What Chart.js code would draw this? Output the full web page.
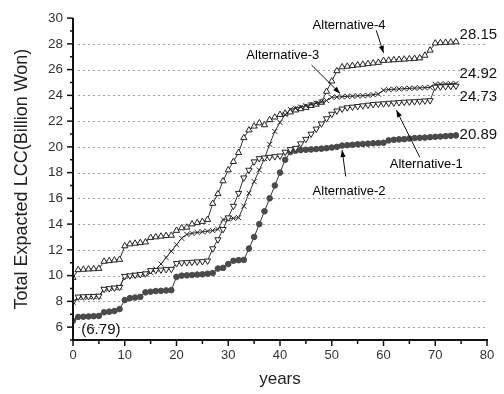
<!DOCTYPE html>
<html><head><meta charset="utf-8">
<script src="https://cdn.jsdelivr.net/npm/chart.js@4.4.1/dist/chart.umd.min.js"></script>
<style>html,body{margin:0;padding:0;background:#fff;overflow:hidden}#wrap{width:504px;height:394px}</style>
</head><body><div id="wrap"><canvas id="c" width="504" height="394"></canvas></div>
<script>
const years = [0,1,2,3,4,5,6,7,8,9,10,11,12,13,14,15,16,17,18,19,20,21,22,23,24,25,26,27,28,29,30,31,32,33,34,35,36,37,38,39,40,41,42,43,44,45,46,47,48,49,50,51,52,53,54,55,56,57,58,59,60,61,62,63,64,65,66,67,68,69,70,71,72,73,74];
const alt1 = [7.95,8.35,8.37,8.39,8.4,8.42,8.95,9.0,9.05,9.1,9.95,10.0,10.05,10.1,10.15,10.4,10.42,10.45,10.48,10.5,10.95,11.0,11.02,11.05,11.08,11.1,11.15,12.1,12.8,13.6,14.5,15.4,16.4,17.6,18.2,18.85,19.1,19.15,19.2,19.25,19.3,19.6,19.8,19.9,20.25,20.6,21.0,21.4,21.8,22.2,22.55,22.8,22.95,23.05,23.1,23.15,23.2,23.25,23.3,23.33,23.36,23.4,23.42,23.45,23.48,23.5,23.52,23.55,23.58,23.6,24.65,24.67,24.69,24.71,24.73];
const alt2 = [6.5,6.79,6.81,6.83,6.85,6.87,7.15,7.2,7.25,7.4,8.1,8.25,8.3,8.35,8.7,8.75,8.8,8.82,8.85,8.87,9.9,10.0,10.02,10.05,10.08,10.1,10.15,10.2,10.55,10.6,10.9,11.15,11.2,11.22,12.1,13.0,14.0,15.0,16.0,17.0,18.0,19.0,19.6,19.7,19.75,19.78,19.8,19.83,19.86,19.9,19.95,20.0,20.1,20.13,20.16,20.2,20.22,20.25,20.28,20.3,20.32,20.5,20.55,20.58,20.6,20.65,20.68,20.7,20.72,20.75,20.78,20.8,20.83,20.86,20.89];
const alt3 = [7.95,8.3,8.32,8.35,8.38,8.4,8.95,9.0,9.05,9.1,9.95,10.0,10.05,10.1,10.15,10.25,10.5,10.9,11.4,11.9,12.4,12.9,13.2,13.28,13.35,13.4,13.45,13.5,13.6,14.35,14.4,14.45,14.5,15.4,16.4,17.3,18.2,19.1,20.2,21.2,21.9,22.5,22.9,23.0,23.1,23.2,23.3,23.4,23.5,23.6,23.85,23.87,23.9,23.92,23.94,23.96,23.98,24.0,24.05,24.1,24.4,24.45,24.47,24.5,24.52,24.54,24.56,24.58,24.6,24.62,24.85,24.87,24.89,24.9,24.92];
const alt4 = [9.85,10.45,10.48,10.5,10.52,10.55,11.1,11.15,11.2,11.25,12.3,12.45,12.5,12.55,12.6,12.95,13.0,13.05,13.1,13.12,13.5,13.7,13.75,14.0,14.1,14.2,14.35,15.6,16.35,17.35,18.2,18.85,19.55,20.7,21.3,21.6,21.85,21.7,22.1,22.3,22.5,22.6,22.7,22.85,22.95,23.05,23.2,23.3,23.45,24.3,25.1,25.9,26.2,26.25,26.3,26.35,26.4,26.45,26.5,26.55,26.7,26.72,26.75,26.78,26.8,26.83,26.86,26.9,27.1,27.5,28.05,28.08,28.1,28.12,28.15];
const seriesNames = ['Alternative-1','Alternative-2','Alternative-3','Alternative-4'];
const endLabels = ['24.73','20.89','24.92','28.15'];
const startLabel = '(6.79)';
const yTickValues = [6,8,10,12,14,16,18,20,22,24,26,28,30];
const xTickValues = [0,10,20,30,40,50,60,70,80];

const FONT = "'Liberation Sans', Arial, sans-serif";

// annotation placement (data units)
const nameLabelPos = [
  {text: seriesNames[3], x: 46.3, y: 29.4, arrow: [58.6, 29.05, 60.0, 27.3]},
  {text: seriesNames[2], x: 33.5, y: 27.08, arrow: [46.1, 26.35, 51.6, 24.15]},
  {text: seriesNames[0], x: 61.2, y: 18.6, arrow: [67.0, 19.2, 62.5, 22.85]},
  {text: seriesNames[1], x: 46.3, y: 16.54, arrow: [52.7, 17.7, 52.0, 19.75]}
];
const valueLabelPos = [
  {text: endLabels[3], x: 74.7, y: 28.73},
  {text: endLabels[2], x: 74.7, y: 25.64},
  {text: endLabels[0], x: 74.7, y: 23.92},
  {text: endLabels[1], x: 74.7, y: 20.9},
  {text: startLabel, x: 1.6, y: 5.77}
];

function pts(arr){ return years.map((yr,i)=>({x: yr, y: arr[i]})); }

const decor = {
  id: 'decor',
  beforeDatasetsDraw(chart){
    const {ctx, chartArea: a, scales: {y}} = chart;
    ctx.save();
    ctx.strokeStyle = '#a0a0a0'; ctx.lineWidth = 1; ctx.setLineDash([2,3]);
    for (const v of yTickValues){
      if (v >= 30) continue;
      const py = Math.round(y.getPixelForValue(v)) + 0.5;
      ctx.beginPath(); ctx.moveTo(a.left + 5, py); ctx.lineTo(a.right, py); ctx.stroke();
    }
    ctx.restore();
  },
  afterDatasetsDraw(chart){
    const {ctx, chartArea: a, scales: {x, y}} = chart;
    ctx.save();
    ctx.setLineDash([]);
    ctx.strokeStyle = '#111'; ctx.lineWidth = 2;
    ctx.beginPath(); ctx.moveTo(a.left, a.top); ctx.lineTo(a.left, a.bottom + 1); ctx.stroke();
    ctx.beginPath(); ctx.moveTo(a.left - 1, a.bottom); ctx.lineTo(a.right + 1, a.bottom); ctx.stroke();
    ctx.lineWidth = 1.5;
    for (const v of yTickValues){
      const py = y.getPixelForValue(v);
      ctx.beginPath(); ctx.moveTo(a.left - 6, py); ctx.lineTo(a.left, py); ctx.stroke();
      const pm = y.getPixelForValue(v - 1);
      ctx.beginPath(); ctx.moveTo(a.left - 3, pm); ctx.lineTo(a.left, pm); ctx.stroke();
    }
    for (const v of xTickValues){
      const px = x.getPixelForValue(v);
      ctx.beginPath(); ctx.moveTo(px, a.bottom); ctx.lineTo(px, a.bottom + 6); ctx.stroke();
      if (v < 80){
        const pm = x.getPixelForValue(v + 5);
        ctx.beginPath(); ctx.moveTo(pm, a.bottom); ctx.lineTo(pm, a.bottom + 4); ctx.stroke();
      }
    }
    // name labels with arrows
    ctx.fillStyle = '#000'; ctx.strokeStyle = '#111'; ctx.lineWidth = 1;
    ctx.font = '13px ' + FONT; ctx.textAlign = 'left'; ctx.textBaseline = 'middle';
    for (const l of nameLabelPos){
      ctx.fillText(l.text, x.getPixelForValue(l.x), y.getPixelForValue(l.y));
      const [x1,y1,x2,y2] = l.arrow;
      const p1x = x.getPixelForValue(x1), p1y = y.getPixelForValue(y1);
      const p2x = x.getPixelForValue(x2), p2y = y.getPixelForValue(y2);
      ctx.beginPath(); ctx.moveTo(p1x,p1y); ctx.lineTo(p2x,p2y); ctx.stroke();
      const ang = Math.atan2(p2y-p1y, p2x-p1x), L = 7, W = 2.6;
      ctx.beginPath();
      ctx.moveTo(p2x, p2y);
      ctx.lineTo(p2x - L*Math.cos(ang) + W*Math.sin(ang), p2y - L*Math.sin(ang) - W*Math.cos(ang));
      ctx.lineTo(p2x - L*Math.cos(ang) - W*Math.sin(ang), p2y - L*Math.sin(ang) + W*Math.cos(ang));
      ctx.closePath(); ctx.fill();
    }
    ctx.font = '15px ' + FONT; ctx.fillStyle = '#111';
    for (const l of valueLabelPos){
      ctx.fillText(l.text, x.getPixelForValue(l.x), y.getPixelForValue(l.y));
    }
    ctx.restore();
  }
};

const common = {borderColor: '#333', borderWidth: 1, tension: 0, pointBorderWidth: 1, pointHoverRadius: 3, fill: false};
new Chart(document.getElementById('c'), {
  type: 'line',
  data: {
    datasets: [
      Object.assign({}, common, {label: seriesNames[0], data: pts(alt1), pointStyle: 'triangle', rotation: 180, pointRadius: 3.6, pointBackgroundColor: '#fff', pointBorderColor: '#222'}),
      Object.assign({}, common, {label: seriesNames[1], data: pts(alt2), pointStyle: 'circle', pointRadius: 2.8, pointBackgroundColor: '#4a4a4a', pointBorderColor: '#4a4a4a'}),
      Object.assign({}, common, {label: seriesNames[2], data: pts(alt3), pointStyle: 'crossRot', pointRadius: 3.6, pointBackgroundColor: '#fff', pointBorderColor: '#222'}),
      Object.assign({}, common, {label: seriesNames[3], data: pts(alt4), pointStyle: 'triangle', pointRadius: 3.6, pointBackgroundColor: '#fff', pointBorderColor: '#222'})
    ]
  },
  options: {
    responsive: false, animation: false, devicePixelRatio: 1,
    layout: {padding: {left: 0, top: 15, right: 17, bottom: 0}},
    plugins: {legend: {display: false}, tooltip: {enabled: false}},
    scales: {
      x: {
        type: 'linear', min: 0, max: 80,
        grid: {display: false, drawTicks: false}, border: {display: false},
        afterBuildTicks: s => { s.ticks = xTickValues.map(v => ({value: v})); },
        afterFit: s => { s.height = 54; },
        ticks: {font: {family: FONT, size: 13}, color: '#333', padding: 8, maxRotation: 0},
        title: {display: true, text: 'years', font: {family: FONT, size: 17}, color: '#222', padding: {top: 0, bottom: 4}}
      },
      y: {
        type: 'linear', min: 5, max: 30,
        grid: {display: false, drawTicks: false}, border: {display: false},
        afterBuildTicks: s => { s.ticks = yTickValues.map(v => ({value: v})); },
        afterFit: s => { s.width = 73; },
        ticks: {font: {family: FONT, size: 13.5}, color: '#333', padding: 10},
        title: {display: true, text: 'Total Expacted LCC(Billion Won)', font: {family: FONT, size: 18}, color: '#222', padding: {top: 11, bottom: 0}}
      }
    }
  },
  plugins: [decor]
});
</script>
</body></html>
